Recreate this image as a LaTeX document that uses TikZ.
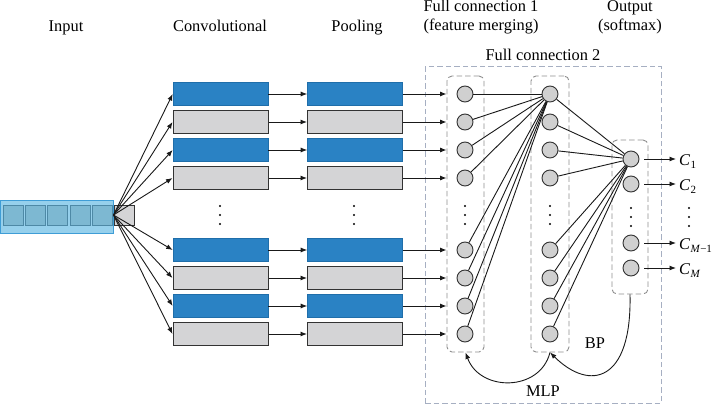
\documentclass[tikz,border=0pt]{standalone}
\usepackage{fontspec}
\setmainfont{Liberation Serif}
\usetikzlibrary{arrows.meta}
\definecolor{inOut}{HTML}{96D0EC}
\definecolor{inOutB}{HTML}{3F9DD6}
\definecolor{inIn}{HTML}{7DB8D2}
\definecolor{inInB}{HTML}{4E89A6}
\definecolor{convBlue}{HTML}{2A82C4}
\definecolor{convBlueB}{HTML}{1F6EAA}
\definecolor{boxGray}{HTML}{D4D4D6}
\definecolor{circGray}{HTML}{D0D0D0}
\definecolor{edgeDark}{HTML}{333333}
\definecolor{dashGray}{HTML}{8E8E8E}
\definecolor{dashBlue}{HTML}{A6AFC2}
\newcommand{\Csub}[1]{\textit{C}\kern0.3pt\raisebox{-0.45ex}{\fontsize{11}{11}\selectfont #1}}
\begin{document}
\begin{tikzpicture}[x=1pt,y=-1pt,
  font=\fontsize{16.4}{18.5}\selectfont,
  arr/.style={draw=black!90, line width=0.9pt, -{Latex[length=6.5pt,width=5pt]}},
  ln/.style={draw=black!90, line width=0.9pt},
  bluebox/.style={rectangle, draw=convBlueB, fill=convBlue, line width=0.6pt, minimum width=95pt, minimum height=23.5pt, inner sep=0pt},
  graybox/.style={rectangle, draw=edgeDark, fill=boxGray, line width=1pt, minimum width=95pt, minimum height=23.5pt, inner sep=0pt},
  neuron/.style={circle, draw=edgeDark, fill=circGray, line width=0.9pt, minimum size=16pt, inner sep=0pt},
  grp/.style={rectangle, draw=dashGray, dash pattern=on 5.5pt off 3pt, rounded corners=5pt, line width=0.9pt, inner sep=0pt},
  lbl/.style={anchor=base, inner sep=0pt},
  dotm/.style={fill=black}
]
\useasboundingbox (0,0) rectangle (713,420);

% labels
\node[lbl] (tIn) at (66,31.5) {Input};
\node[lbl] (tConv) at (220,31.5) {Convolutional};
\node[lbl] (tPool) at (357,31.5) {Pooling};
\node[lbl] (tF1a) at (481,11.7) {Full connection 1};
\node[lbl] (tF1b) at (481,30.5) {(feature merging)};
\node[lbl] (tOa) at (630,11.7) {Output};
\node[lbl] (tOb) at (630,30.5) {(softmax)};
\node[lbl] (tF2) at (543,60.5) {Full connection 2};

% dashed groups
\node[rectangle, draw=dashBlue, dash pattern=on 5.5pt off 3pt, line width=1pt, minimum width=236pt, minimum height=336pt, inner sep=0pt] (outer) at (543,235) {};
\node[grp, minimum width=37pt, minimum height=276pt] (f1box) at (465.5,214) {};
\node[grp, minimum width=38pt, minimum height=276pt] (f2box) at (550,214) {};
\node[grp, minimum width=36pt, minimum height=154pt] (obox) at (630,217) {};

% input
\node[rectangle, draw=inOutB, fill=inOut, line width=0.8pt, minimum width=113pt, minimum height=33pt, inner sep=0pt] (inbar) at (56.5,216.5) {};
\foreach \k/\x in {1/13,2/35.3,3/57.5,4/80,5/102}
  \node[rectangle, draw=inInB, fill=inIn, line width=0.8pt, minimum size=20pt, inner sep=0pt] (sq\k) at (\x,215) {};
\node[rectangle, draw=edgeDark, fill=boxGray, line width=0.9pt, minimum size=20pt, inner sep=0pt] (gbox) at (124,215) {};
\coordinate (apex) at (113.5,215);

% conv / pool rows
\foreach \i/\y/\s in {1/94/bluebox,2/122/graybox,3/150/bluebox,4/178/graybox,5/250/bluebox,6/278/graybox,7/306/bluebox,8/334/graybox}{
  \node[\s] (c\i) at (220.5,\y) {};
  \node[\s] (p\i) at (355,\y) {};
  \node[neuron] (fa\i) at (465,\y) {};
  \node[neuron] (fb\i) at (550,\y) {};
}
\foreach \i/\y in {1/159,2/184,3/243,4/268}
  \node[neuron] (o\i) at (631,\y) {};

% C labels
\node[anchor=base west, inner sep=0pt] (C1) at (679,165) {\Csub{1}};
\node[anchor=base west, inner sep=0pt] (C2) at (679,190) {\Csub{2}};
\node[anchor=base west, inner sep=0pt] (C3) at (679,249) {\Csub{\textit{M}−1}};
\node[anchor=base west, inner sep=0pt] (C4) at (679,274) {\Csub{\textit{M}}};

% connectors
\foreach \i in {1,...,8}{
  \draw[arr] (apex) -- (c\i.west);
  \draw[arr] (c\i.east) -- (p\i.west);
  \draw[arr] (p\i.east) -- (p\i.east -| f1box.west);
  \draw[ln] (fa\i) -- (fb1);
  \draw[ln] (fb\i) -- (o1);
}
\foreach \i in {1,...,4}
  \draw[arr] ([xshift=5pt]o\i.east) -- ([xshift=-3pt]o\i.east -| C\i.west);

% dots
\foreach \x in {220,354,465,550}
  \foreach \y in {206,215,224}
    \fill[dotm] (\x,\y) circle (1.1pt);
\foreach \x in {631,689}
  \foreach \y in {208,217,226}
    \fill[dotm] (\x,\y) circle (1.1pt);

% feedback curves
\draw[arr] (f2box.south) .. controls (540,392) and (480,392) .. (f1box.south);
\draw[arr] (obox.south) .. controls (632,382) and (590,392) .. (f2box.south);
\node[lbl] (tBP) at (595,348.5) {BP};
\node[lbl] (tMLP) at (543,396.5) {MLP};
\end{tikzpicture}
\end{document}
